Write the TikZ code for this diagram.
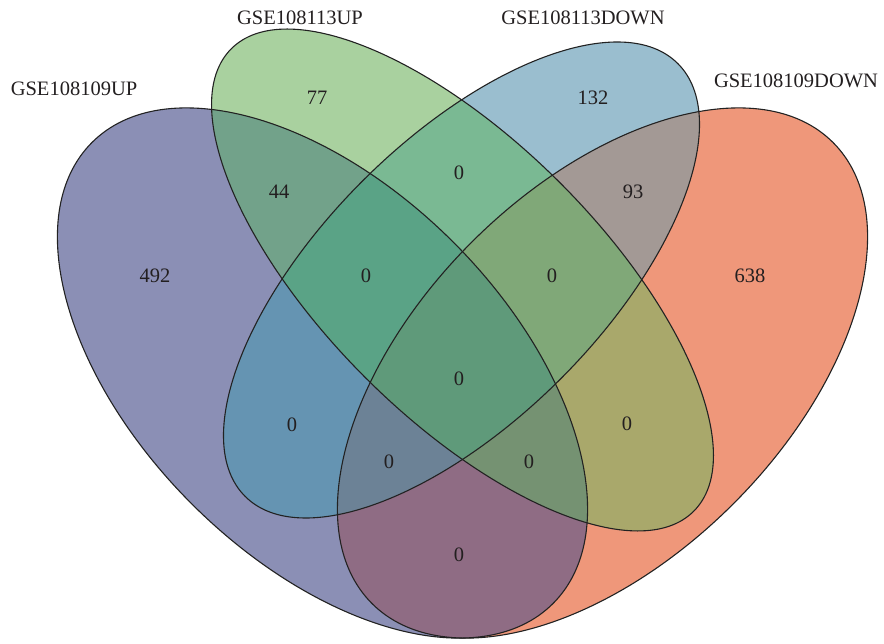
\documentclass[tikz,border=0pt]{standalone}
\usepackage{fontspec}
\setmainfont{Liberation Serif}
\definecolor{cP}{HTML}{8B8FB5}
\definecolor{cG}{HTML}{A9D19F}
\definecolor{cB}{HTML}{9ABECF}
\definecolor{cO}{HTML}{EF977A}
\definecolor{cPG}{HTML}{72A28A}
\definecolor{cGB}{HTML}{7AB993}
\definecolor{cBO}{HTML}{A39995}
\definecolor{cPB}{HTML}{6594B2}
\definecolor{cGO}{HTML}{A9A86B}
\definecolor{cPO}{HTML}{8F6C84}
\definecolor{cPGB}{HTML}{5AA386}
\definecolor{cGBO}{HTML}{80A878}
\definecolor{cPBO}{HTML}{6C8296}
\definecolor{cPGO}{HTML}{759272}
\definecolor{cPGBO}{HTML}{5F9A7A}
\definecolor{lineC}{HTML}{222222}
\definecolor{txtC}{HTML}{231F20}
\newcommand\vennP{\clip[rotate around={-45:(322.5,270)}] (322.5,270) ellipse [x radius=326pt, y radius=185pt];}
\newcommand\vennO{\clip[rotate around={45:(602.5,270)}] (602.5,270) ellipse [x radius=326pt, y radius=185pt];}
\newcommand\vennG{\clip[rotate around={-45:(462.5,363)}] (462.5,363) ellipse [x radius=327pt, y radius=137.7pt];}
\newcommand\vennB{\clip[rotate around={45:(461.5,363)}] (461.5,363) ellipse [x radius=306pt, y radius=140pt];}
\newcommand\vennfill[1]{\fill[#1] (0,0) rectangle (884,643);}
\tikzset{
  outline/.style={draw=lineC, line width=1.1pt},
  lbl/.style={text=txtC, font=\fontsize{20.5}{24}\selectfont, inner sep=0pt},
}
\begin{document}
\begin{tikzpicture}[x=1pt,y=1pt]
\useasboundingbox (0,0) rectangle (884,643);
% single sets
\begin{scope}\vennP\vennfill{cP}\end{scope}
\begin{scope}\vennG\vennfill{cG}\end{scope}
\begin{scope}\vennB\vennfill{cB}\end{scope}
\begin{scope}\vennO\vennfill{cO}\end{scope}
% pairs
\begin{scope}\vennP\vennG\vennfill{cPG}\end{scope}
\begin{scope}\vennG\vennB\vennfill{cGB}\end{scope}
\begin{scope}\vennB\vennO\vennfill{cBO}\end{scope}
\begin{scope}\vennP\vennB\vennfill{cPB}\end{scope}
\begin{scope}\vennG\vennO\vennfill{cGO}\end{scope}
\begin{scope}\vennP\vennO\vennfill{cPO}\end{scope}
% triples
\begin{scope}\vennP\vennG\vennB\vennfill{cPGB}\end{scope}
\begin{scope}\vennG\vennB\vennO\vennfill{cGBO}\end{scope}
\begin{scope}\vennP\vennB\vennO\vennfill{cPBO}\end{scope}
\begin{scope}\vennP\vennG\vennO\vennfill{cPGO}\end{scope}
% all four
\begin{scope}\vennP\vennG\vennB\vennO\vennfill{cPGBO}\end{scope}
% outlines
\draw[outline, rotate around={-45:(322.5,270)}] (322.5,270) ellipse [x radius=326pt, y radius=185pt];
\draw[outline, rotate around={45:(602.5,270)}] (602.5,270) ellipse [x radius=326pt, y radius=185pt];
\draw[outline, rotate around={-45:(462.5,363)}] (462.5,363) ellipse [x radius=327pt, y radius=137.7pt];
\draw[outline, rotate around={45:(461.5,363)}] (461.5,363) ellipse [x radius=306pt, y radius=140pt];
% set labels
\node[lbl] (tP) at (74,554) {GSE108109UP};
\node[lbl] (tG) at (300,625) {GSE108113UP};
\node[lbl] (tB) at (583,625) {GSE108113DOWN};
\node[lbl] (tO) at (796,562) {GSE108109DOWN};
% counts
\node[lbl] (n77) at (317,545) {77};
\node[lbl] (n132) at (593,545) {132};
\node[lbl] (n44) at (279,451) {44};
\node[lbl] (nGB) at (459,470) {0};
\node[lbl] (n93) at (633,451) {93};
\node[lbl] (n492) at (155,367) {492};
\node[lbl] (nPGB) at (366,367) {0};
\node[lbl] (nGBO) at (552,367) {0};
\node[lbl] (n638) at (750,367) {638};
\node[lbl] (nAll) at (459,264) {0};
\node[lbl] (nPB) at (292,218) {0};
\node[lbl] (nGO) at (627,219) {0};
\node[lbl] (nPBO) at (389,181) {0};
\node[lbl] (nPGO) at (529,181) {0};
\node[lbl] (nPO) at (459,88) {0};
\end{tikzpicture}
\end{document}
